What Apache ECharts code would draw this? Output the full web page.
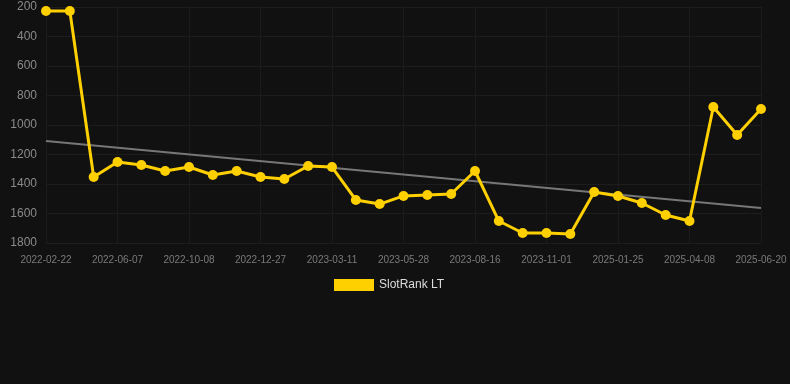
<!DOCTYPE html>
<html>
<head>
<meta charset="utf-8">
<style>
  html, body { margin: 0; padding: 0; background: #111111; }
  #chart { width: 790px; height: 384px; }
</style>
<script src="https://cdn.jsdelivr.net/npm/echarts@6/dist/echarts.min.js"></script>
</head>
<body>
<div id="chart"></div>
<script>
// dates (only every 3rd one is shown on the axis)
const dates = [
  '2022-02-22', '2022-03-29', '2022-05-03', '2022-06-07', '2022-07-10', '2022-08-20',
  '2022-10-08', '2022-11-05', '2022-12-01', '2022-12-27', '2023-01-20', '2023-02-15',
  '2023-03-11', '2023-04-05', '2023-05-01', '2023-05-28', '2023-06-25', '2023-07-20',
  '2023-08-16', '2023-09-10', '2023-10-05', '2023-11-01', '2024-11-20', '2024-12-25',
  '2025-01-25', '2025-02-20', '2025-03-15', '2025-04-08', '2025-05-01', '2025-05-25',
  '2025-06-20'
];
const rankValues = [
  227, 227, 1352, 1251, 1271, 1312, 1285, 1339, 1312, 1352, 1366, 1278,
  1285, 1508, 1536, 1481, 1475, 1468, 1312, 1651, 1732, 1732, 1739, 1454,
  1481, 1529, 1610, 1651, 878, 1068, 892
];
const trendEnds = [1108, 1563];
const yTicks = { min: 200, max: 1800, step: 200 };

const chart = echarts.init(document.getElementById('chart'));
const option = {
  backgroundColor: '#111111',
  animation: false,
  grid: { left: 46, right: 29, top: 7, bottom: 141 },
  legend: {
    bottom: 88,
    left: 329,
    itemWidth: 40,
    itemHeight: 12,
    itemGap: 10,
    icon: 'rect',
    data: ['SlotRank LT'],
    textStyle: { color: '#dddddd', fontSize: 12, fontFamily: 'Arial, Liberation Sans, sans-serif' }
  },
  xAxis: {
    type: 'category',
    data: dates,
    boundaryGap: false,
    axisLine: { show: false },
    axisTick: { show: false },
    axisLabel: {
      interval: 2,
      color: '#7a7a7a',
      fontSize: 10,
      margin: 12,
      fontFamily: 'Arial, Liberation Sans, sans-serif'
    },
    splitLine: { show: true, interval: 2, lineStyle: { color: '#1b1b1b', width: 1 } }
  },
  yAxis: {
    type: 'value',
    inverse: true,
    min: yTicks.min,
    max: yTicks.max,
    interval: yTicks.step,
    axisLine: { show: false },
    axisTick: { show: false },
    axisLabel: {
      color: '#8a8a8a',
      fontSize: 12,
      margin: 9,
      formatter: v => String(v),
      fontFamily: 'Arial, Liberation Sans, sans-serif'
    },
    splitLine: { lineStyle: { color: '#1d1d1d', width: 1 } }
  },
  series: [
    {
      name: 'trend',
      type: 'line',
      data: [[dates[0], trendEnds[0]], [dates[dates.length - 1], trendEnds[1]]],
      symbol: 'none',
      lineStyle: { color: '#777777', width: 2 },
      silent: true,
      z: 1
    },
    {
      name: 'SlotRank LT',
      type: 'line',
      data: rankValues,
      symbol: 'circle',
      symbolSize: 10,
      color: '#FFD000',
      lineStyle: { color: '#FFD000', width: 3 },
      itemStyle: { color: '#FFD000' },
      z: 2
    }
  ]
};
chart.setOption(option);
</script>
</body>
</html>
